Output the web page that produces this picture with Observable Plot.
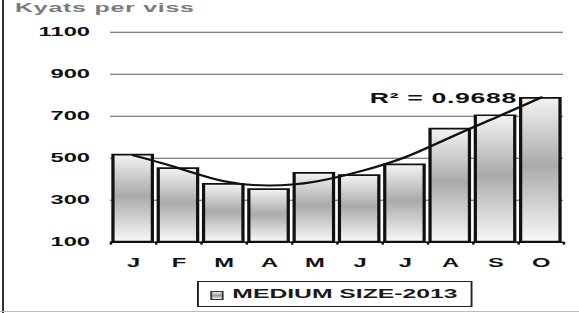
<!DOCTYPE html>
<html>
<head>
<meta charset="utf-8">
<script src="https://cdn.jsdelivr.net/npm/d3@7"></script>
<script src="https://cdn.jsdelivr.net/npm/@observablehq/plot@0.6"></script>
<style>
  html, body { margin: 0; padding: 0; background: #fff; }
  #wrap { position: relative; width: 579px; height: 313px; overflow: hidden; font-family: "Liberation Sans", Arial, sans-serif; }
  #frameL { position: absolute; left: 2px; top: 0; width: 2px; height: 313px; background: #333; }
  #frameB { position: absolute; left: 0; top: 311px; width: 579px; height: 1px; background: #bbb; }
  #title { position: absolute; left: 15px; top: 0px; font-weight: bold; font-size: 13.5px; line-height: 16px; color: #7c7c7c; transform: scaleX(1.85); transform-origin: 0 0; white-space: nowrap; letter-spacing: 0.4px; }
  #chart { position: absolute; left: 0; top: 0; }
  #chart svg { display: block; transform: scaleX(1.9); transform-origin: 0 0; overflow: visible; }
  #chart svg * { vector-effect: non-scaling-stroke; }
  #legend { position: absolute; left: 197px; top: 281px; width: 145.3px; height: 26px; box-sizing: border-box; border: 1.2px solid #222; transform: scaleX(1.9); transform-origin: 0 0; }
  #legend .sw { position: absolute; left: 6.2px; top: 9px; width: 5.2px; height: 6.5px; border: 1px solid #333; background: linear-gradient(#eee, #999 50%, #eee); }
  #legend .lbl { position: absolute; left: 17.6px; top: 4px; font-weight: bold; font-size: 13px; line-height: 16px; color: #1a1a1a; white-space: nowrap; }
</style>
</head>
<body>
<div id="wrap">
  <div id="chart"></div>
  <div id="title">Kyats per viss</div>
  <div id="legend"><div class="sw"></div><div class="lbl">MEDIUM SIZE-2013</div></div>
  <div id="frameL"></div>
  <div id="frameB"></div>
</div>
<script>
// ---- data ----
const months = ["J", "F", "M", "A", "M ", "J ", "J  ", "A ", "S", "O"];
const monthLabels = ["J", "F", "M", "A", "M", "J", "J", "A", "S", "O"];
const prices = [515, 450, 375, 350, 428, 417, 468, 638, 702, 785];
const trend = [513, 452, 390, 370, 388, 437, 505, 600, 694, 790];
const yTicks = [100, 300, 500, 700, 900, 1100];
const seriesName = "MEDIUM SIZE-2013";
const r2Label = "R² = 0.9688";
const r2At = {x: "S", y: 762};

const data = months.map((m, i) => ({month: m, price: prices[i], trend: trend[i]}));

const S = 1.9;
const W = 579 / S;
const mL = 110 / S, mR = 16 / S;
const step = (W - mL - mR) / months.length;

const plot = Plot.plot({
  width: W,
  height: 275,
  marginLeft: mL,
  marginRight: mR,
  marginTop: 31.7,
  marginBottom: 275 - 241.7,
  style: {fontFamily: "'Liberation Sans', Arial, sans-serif", fontSize: "12.5px", fontWeight: "bold", color: "#111", background: "transparent"},
  x: {domain: months, paddingInner: 0.13, paddingOuter: 0.065, round: false, label: null},
  y: {domain: [100, 1100], label: null},
  marks: [
    Plot.ruleY(yTicks.filter(d => d > 100), {stroke: "#5a5a5a", strokeWidth: 1}),
    Plot.barY(data, {x: "month", y1: 100, y2: "price", fill: "url(#barGrad)", stroke: "#111", strokeWidth: 1.7}),
    Plot.ruleY([100], {stroke: "#111", strokeWidth: 1.6}),
    Plot.ruleX(months, {x: d => d, y1: 100, y2: 86, dx: -step / 2, stroke: "#111", strokeWidth: 1.3}),
    Plot.ruleX([months[months.length - 1]], {x: d => d, y1: 100, y2: 86, dx: step / 2, stroke: "#111", strokeWidth: 1.3}),
    Plot.line(data, {x: "month", y: "trend", curve: "natural", stroke: "#111", strokeWidth: 2}),
    Plot.text([r2At], {x: "x", y: "y", text: () => r2Label, textAnchor: "end", lineAnchor: "bottom", dx: 11, fontSize: 14, fontWeight: "bold", fill: "#111", className: "r2"}),
    Plot.axisY({ticks: yTicks, tickSize: 0, tickPadding: 11, tickFormat: d => String(d), fontSize: 12.5, fontWeight: "bold", label: null}),
    Plot.axisX({tickSize: 0, tickPadding: 16.3, tickFormat: d => monthLabels[months.indexOf(d)], fontSize: 12.5, fontWeight: "bold", label: null})
  ]
});

const ns = "http://www.w3.org/2000/svg";
const defs = document.createElementNS(ns, "defs");
defs.innerHTML = '<linearGradient id="barGrad" x1="0" y1="0" x2="0" y2="1">' +
  '<stop offset="0" stop-color="#f3f3f3"/>' +
  '<stop offset="0.47" stop-color="#aaaaaa"/>' +
  '<stop offset="1" stop-color="#f8f8f8"/></linearGradient>';
plot.insertBefore(defs, plot.firstChild);
plot.querySelectorAll(".r2 text, g.r2 text").forEach(t => t.style.letterSpacing = "0.35px");
document.getElementById("chart").appendChild(plot);
document.querySelector("#legend .lbl").textContent = seriesName;
</script>
</body>
</html>
